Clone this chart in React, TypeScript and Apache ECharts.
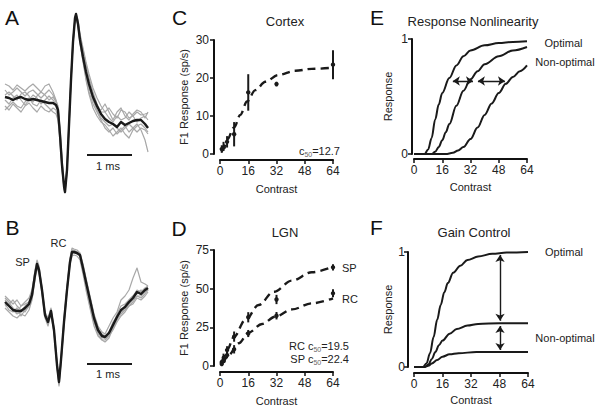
import React, { useEffect, useRef } from 'react';
import * as echarts from 'echarts';

const FONT = '"Liberation Sans", Arial, Helvetica, sans-serif';
const INK = '#1a1a1a';
const GRAY = '#a8a8a8';

// ---------- Panel A: spike waveform (time in samples, 45 samples = 1 ms; amplitude arbitrary units)
const tA = [5, 9, 13, 17, 21, 25, 29, 33, 37, 41, 45, 49, 53, 56, 58, 60, 62, 64, 65, 67, 69, 71, 73, 75, 76, 78, 80, 83, 86, 89, 93, 97, 101, 105, 109, 113, 117, 121, 125, 129, 133, 137, 141, 145, 148];
const meanA = [3, 2, 0, 2, 3, 1, 0, 1, 0, -1, -2, -3, -3, -5, -10, -35, -65, -86, -92, -70, -25, 20, 58, 82, 86, 76, 60, 43, 28, 16, 3, -6, -14, -19, -22, -24, -27, -22, -25, -23, -21, -20, -20, -24, -28];
const traceA1 = [16, 14, 10, 15, 12, 9, 13, 16, 12, 8, 14, 16, 8, 0, -8, -32, -62, -84, -90, -68, -22, 22, 60, 82, 85, 78, 64, 50, 36, 22, 8, -4, -12, -12, -8, -14, -18, -10, -12, -18, -16, -12, -15, -14, -13];
const traceA2 = [-6, -10, -4, -8, -12, -6, -3, -8, -12, -6, -10, -12, -8, -10, -18, -40, -68, -88, -92, -72, -28, 18, 56, 80, 84, 74, 58, 40, 22, 8, -4, -12, -20, -28, -32, -28, -34, -30, -26, -32, -28, -24, -30, -40, -52];
const traceA3 = [5, 8, 4, 0, 6, 8, 4, -2, 4, 8, 5, 0, 3, -2, -12, -38, -66, -87, -91, -70, -26, 20, 57, 81, 85, 75, 56, 38, 20, 6, -8, -16, -22, -25, -30, -36, -32, -28, -34, -38, -30, -26, -24, -28, -32];
const traceA4 = [0, -4, 2, 5, 0, -5, 0, 5, 2, -4, 0, 4, 0, -4, -8, -30, -60, -84, -90, -68, -24, 22, 59, 82, 86, 80, 66, 52, 38, 26, 12, 2, -6, -12, -18, -22, -16, -20, -18, -12, -16, -22, -18, -16, -20];
const traceA5 = [-10, -6, -2, -6, -8, -2, 2, -4, -6, 0, -4, -8, -12, -14, -20, -42, -70, -89, -93, -73, -28, 18, 56, 80, 84, 74, 58, 42, 26, 12, 0, -10, -18, -22, -26, -24, -28, -32, -28, -24, -28, -32, -28, -30, -34];
const traceA6 = [10, 5, 8, 12, 8, 4, 8, 10, 6, 2, 6, 10, 5, -1, -6, -28, -58, -83, -89, -66, -20, 24, 61, 83, 86, 78, 62, 46, 30, 14, 0, -8, -10, -4, -12, -20, -12, -8, -16, -20, -14, -10, -12, -18, -12];

// ---------- Panel B: complex waveform
const tB = [5, 9, 13, 17, 21, 25, 29, 32, 35, 37, 39, 42, 45, 48, 51, 54, 57, 59, 61, 64, 67, 70, 72, 74, 77, 80, 83, 86, 90, 94, 98, 102, 105, 109, 113, 117, 121, 125, 129, 133, 137, 141, 145, 148];
const meanB = [-2, -6, -10, -11, -11, -8, -4, 5, 25, 36, 30, 10, -15, -22, -11, -30, -65, -82, -60, -22, 10, 38, 48, 48, 47, 45, 32, 18, 0, -18, -30, -36, -37, -33, -25, -17, -10, -7, -2, 2, 8, 6, 10, 12];
const traceB1 = [4, 0, -4, 0, -6, -2, 2, 10, 30, 40, 34, 12, -12, -18, -8, -28, -62, -80, -58, -18, 14, 42, 52, 51, 50, 47, 36, 22, 4, -14, -26, -32, -34, -26, -18, -12, 0, 4, 10, 22, 32, 18, 16, 14];
const traceB2 = [-8, -12, -16, -18, -14, -16, -10, 0, 20, 32, 26, 6, -18, -26, -14, -34, -68, -86, -64, -26, 8, 35, 44, 45, 44, 40, 26, 10, -8, -26, -36, -40, -40, -36, -30, -22, -16, -12, -6, -4, 2, 0, 4, 8];
const traceB3 = [0, -4, 0, -6, -10, -12, -6, 4, 24, 34, 28, 8, -16, -20, -10, -30, -64, -81, -60, -22, 12, 40, 50, 50, 48, 44, 30, 14, -6, -22, -34, -40, -42, -38, -28, -18, -12, -6, 0, 4, 6, 10, 8, 10];
const traceB4 = [-4, -10, -12, -8, -16, -10, -6, 2, 22, 35, 30, 10, -14, -24, -12, -32, -66, -84, -62, -24, 10, 37, 46, 47, 46, 44, 34, 20, 2, -16, -28, -34, -36, -32, -22, -16, -12, -10, -4, 0, 4, 2, 6, 10];
const traceB5 = [2, -2, -8, -12, -6, -4, -2, 8, 28, 38, 32, 12, -14, -20, -10, -28, -63, -80, -58, -20, 12, 40, 50, 49, 48, 46, 32, 16, -2, -20, -32, -38, -38, -34, -26, -14, -6, -4, 0, 4, 10, 8, 12, 14];
const traceB6 = [-6, -4, -10, -14, -12, -6, -2, 6, 26, 37, 31, 9, -16, -22, -12, -30, -66, -84, -61, -23, 10, 38, 48, 48, 47, 45, 34, 16, -4, -22, -32, -36, -38, -36, -28, -20, -14, -10, -6, -2, 4, 4, 8, 10];

// scale bars (samples, amplitude level)
const scaleBarSamples = [87, 132];
const scaleBarLevelA = -55;
const scaleBarLevelB = -64;

// ---------- Panel C: cortex contrast response (sp/s)
const contrasts = [1, 2, 4, 8, 16, 32, 64];
const cortexMean = [1.3, 2.0, 3.2, 5.2, 16.2, 18.4, 23.5];
const cortexErr = [1.0, 1.2, 1.5, 3.2, 4.8, 0.6, 3.8];
const cortexFit = [[1, 0.6], [2, 1.5], [4, 3.7], [8, 7.0], [11.5, 10.3], [15.3, 13.8], [20, 16.8], [25.7, 19.0], [33, 20.8], [42.6, 21.9], [52, 22.4], [64, 22.7]];

// ---------- Panel D: LGN contrast response (sp/s)
const spMean = [2.5, 6, 10.3, 19, 31.5, 43, 63.8];
const spErr = [1.5, 2, 2.5, 3.3, 3.3, 3, 2];
const rcMean = [1.3, 3.9, 7, 10.8, 21, 32.5, 47];
const rcErr = [1.2, 1.5, 2, 2.7, 2.3, 2.4, 2.6];
const spFit = [[1, 2.5], [2, 5], [4, 10.3], [8, 19], [14.3, 29.7], [21.9, 39.4], [30.4, 48], [40.8, 55.2], [52, 60.6], [64, 64.2]];
const rcFit = [[1, 1.7], [2, 3.5], [4.9, 7.1], [10.6, 14.7], [16.2, 21.6], [23.8, 27.2], [31.3, 31.9], [40.8, 36.6], [52, 40.5], [64, 43.8]];

// ---------- Panel E: response nonlinearity (normalized)
const nlOptimal = [[0, 0], [6, 0], [8, 0.04], [10, 0.14], [12, 0.3], [14, 0.43], [16, 0.53], [20, 0.66], [24, 0.77], [28, 0.85], [32, 0.9], [40, 0.945], [48, 0.965], [56, 0.975], [64, 0.98]];
const nlMiddle = [[0, 0], [10, 0], [12, 0.02], [14, 0.06], [16, 0.12], [18, 0.19], [20, 0.26], [24, 0.42], [28, 0.55], [32, 0.65], [36, 0.72], [40, 0.78], [48, 0.85], [56, 0.9], [64, 0.93]];
const nlNonOptimal = [[0, 0], [18, 0], [22, 0.01], [25, 0.03], [28, 0.06], [32, 0.13], [36, 0.23], [40, 0.34], [44, 0.44], [48, 0.53], [52, 0.61], [56, 0.67], [60, 0.72], [64, 0.77]];
const arrowsE = [[[22, 0.635], [33.4, 0.635]], [[36.2, 0.635], [51.5, 0.635]]];

// ---------- Panel F: gain control (normalized)
const gcOptimal = [[0, 0], [5, 0], [7, 0.03], [9, 0.12], [11, 0.26], [13, 0.41], [15, 0.54], [17, 0.65], [19, 0.73], [22, 0.82], [26, 0.88], [30, 0.93], [36, 0.96], [44, 0.985], [52, 0.995], [64, 1]];
const gcMiddle = [[0, 0], [6, 0], [8, 0.02], [10, 0.07], [12, 0.13], [14, 0.19], [16, 0.23], [20, 0.29], [24, 0.33], [30, 0.36], [36, 0.375], [48, 0.38], [64, 0.38]];
const gcLow = [[0, 0], [6, 0], [8, 0.01], [10, 0.03], [13, 0.06], [16, 0.09], [20, 0.11], [25, 0.12], [35, 0.13], [64, 0.13]];
const arrowsF = [[[48.3, 0.974], [48.3, 0.403]], [[48.3, 0.357], [48.3, 0.148]]];

const contrastTicks = { min: 0, max: 64, interval: 16 };

function hiddenAxis(gridIndex: number, min: number, max: number) {
  return { type: 'value', gridIndex, min, max, show: false, splitLine: { show: false } };
}

function xContrast(gridIndex: number, offset: number, nameGap: number) {
  return {
    type: 'value', gridIndex, ...contrastTicks, offset,
    name: 'Contrast', nameLocation: 'middle', nameGap,
    nameTextStyle: { fontSize: 11, color: '#222', fontFamily: FONT },
    axisLine: { show: true, onZero: false, lineStyle: { color: '#111', width: 2 } },
    axisTick: { show: true, length: 4, lineStyle: { color: '#111', width: 1.5 } },
    axisLabel: { fontSize: 12, color: '#222', margin: 5, fontFamily: FONT },
    splitLine: { show: false },
  };
}

function yResp(gridIndex: number, max: number, interval: number, offset: number, name: string, nameGap: number, labelMargin: number) {
  return {
    type: 'value', gridIndex, min: 0, max, interval, offset,
    name, nameLocation: 'middle', nameGap,
    nameTextStyle: { fontSize: 11, color: '#222', fontFamily: FONT },
    axisLine: { show: true, onZero: false, lineStyle: { color: '#111', width: 2 } },
    axisTick: { show: true, length: 4, lineStyle: { color: '#111', width: 1.5 } },
    axisLabel: { fontSize: 12, color: '#222', margin: labelMargin, fontFamily: FONT },
    splitLine: { show: false },
  };
}

function wave(axis: number, t: number[], v: number[], color: string, width: number, z: number) {
  return {
    type: 'line', xAxisIndex: axis, yAxisIndex: axis, data: t.map((x, i) => [x, v[i]]),
    symbol: 'none', showSymbol: false, silent: true, z,
    lineStyle: { color, width, join: 'round' },
  };
}

function curve(axis: number, data: number[][], dashed: boolean) {
  return {
    type: 'line', xAxisIndex: axis, yAxisIndex: axis, data, smooth: 0.35, smoothMonotone: 'x',
    symbol: 'none', showSymbol: false, silent: true,
    lineStyle: { color: INK, width: dashed ? 2.4 : 2, type: dashed ? [8, 5] : 'solid' },
  };
}

function errorBars(axis: number, xs: number[], mean: number[], err: number[]) {
  return {
    type: 'custom', xAxisIndex: axis, yAxisIndex: axis, silent: true, z: 5,
    data: xs.map((x, i) => [x, mean[i], err[i]]),
    encode: { x: 0, y: 1 },
    renderItem: (_p: any, api: any) => {
      const x = api.value(0), m = api.value(1), e = api.value(2);
      const top = api.coord([x, m + e]);
      const bot = api.coord([x, m - e]);
      const mid = api.coord([x, m]);
      return {
        type: 'group',
        children: [
          { type: 'line', shape: { x1: top[0], y1: top[1], x2: bot[0], y2: bot[1] }, style: { stroke: INK, lineWidth: 2 } },
          { type: 'circle', shape: { cx: mid[0], cy: mid[1], r: 2.2 }, style: { fill: INK } },
        ],
      };
    },
  };
}

function arrows(axis: number, segs: number[][][]) {
  return {
    type: 'lines', coordinateSystem: 'cartesian2d', xAxisIndex: axis, yAxisIndex: axis, silent: true, z: 6,
    symbol: ['arrow', 'arrow'], symbolSize: 7,
    lineStyle: { color: INK, width: 1.4, opacity: 1, curveness: 0 },
    data: segs.map((c) => ({ coords: c })),
  };
}

function scaleBar(axis: number, level: number) {
  return {
    type: 'line', xAxisIndex: axis, yAxisIndex: axis, silent: true, symbol: 'none', showSymbol: false,
    data: scaleBarSamples.map((s) => [s, level]),
    lineStyle: { color: INK, width: 2 },
  };
}

function txt(text: string, x: number, y: number, size: number, align: string = 'center', extra: any = {}) {
  return {
    type: 'text', x, y, silent: true,
    style: {
      text, fontSize: size, fontFamily: FONT, fill: '#222',
      align, verticalAlign: 'middle', textAlign: align, textVerticalAlign: 'middle', ...extra,
    },
  };
}

const subRich = { s: { fontSize: 7, fill: '#666', fontFamily: FONT, padding: [7, 0, 0, 0] } };

export default function App() {
  const ref = useRef<HTMLDivElement>(null);
  useEffect(() => {
    if (!ref.current) return;
    const chart = echarts.init(ref.current, null, { renderer: 'svg' });
    const option: any = {
      animation: false,
      backgroundColor: '#fff',
      textStyle: { fontFamily: FONT },
      grid: [
        { left: 0, top: 0, width: 150, height: 200 },
        { left: 0, top: 200, width: 150, height: 200 },
        { left: 220, top: 40, width: 113, height: 114 },
        { left: 220, top: 250, width: 113, height: 116 },
        { left: 414, top: 39, width: 113, height: 115 },
        { left: 414, top: 252, width: 114, height: 115 },
      ],
      xAxis: [
        hiddenAxis(0, 0, 150),
        hiddenAxis(1, 0, 150),
        xContrast(2, 6, 23),
        xContrast(3, 6, 23),
        xContrast(4, 5, 22),
        xContrast(5, 6, 21),
      ],
      yAxis: [
        hiddenAxis(0, -100, 100),
        hiddenAxis(1, -100, 100),
        yResp(2, 30, 10, 6, 'F1 Response (sp/s)', 25, 5),
        yResp(3, 75, 25, 6, 'F1 Response (sp/s)', 25, 5),
        yResp(4, 1, 1, 2, 'Response', 19, 4),
        yResp(5, 1, 1, 6, 'Response', 15, 3),
      ],
      series: [
        wave(0, tA, traceA1, GRAY, 1.2, 1),
        wave(0, tA, traceA2, GRAY, 1.2, 1),
        wave(0, tA, traceA3, GRAY, 1.2, 1),
        wave(0, tA, traceA4, GRAY, 1.2, 1),
        wave(0, tA, traceA5, GRAY, 1.2, 1),
        wave(0, tA, traceA6, GRAY, 1.2, 1),
        wave(0, tA, meanA, INK, 2.4, 3),
        scaleBar(0, scaleBarLevelA),
        wave(1, tB, traceB1, GRAY, 1.2, 1),
        wave(1, tB, traceB2, GRAY, 1.2, 1),
        wave(1, tB, traceB3, GRAY, 1.2, 1),
        wave(1, tB, traceB4, GRAY, 1.2, 1),
        wave(1, tB, traceB5, GRAY, 1.2, 1),
        wave(1, tB, traceB6, GRAY, 1.2, 1),
        wave(1, tB, meanB, INK, 2.4, 3),
        scaleBar(1, scaleBarLevelB),
        curve(2, cortexFit, true),
        errorBars(2, contrasts, cortexMean, cortexErr),
        curve(3, spFit, true),
        curve(3, rcFit, true),
        errorBars(3, contrasts, spMean, spErr),
        errorBars(3, contrasts, rcMean, rcErr),
        curve(4, nlOptimal, false),
        curve(4, nlMiddle, false),
        curve(4, nlNonOptimal, false),
        arrows(4, arrowsE),
        curve(5, gcOptimal, false),
        curve(5, gcMiddle, false),
        curve(5, gcLow, false),
        arrows(5, arrowsF),
      ],
      graphic: {
        elements: [
          txt('A', 5, 17, 21, 'left', { fill: '#111' }),
          txt('B', 5.5, 227, 21, 'left', { fill: '#111' }),
          txt('C', 172, 17.5, 21, 'left', { fill: '#111' }),
          txt('D', 171.5, 228, 21, 'left', { fill: '#111' }),
          txt('E', 370, 17.5, 21, 'left', { fill: '#111' }),
          txt('F', 370, 227.5, 21, 'left', { fill: '#111' }),
          txt('1 ms', 108, 166, 11),
          txt('1 ms', 108, 374, 11),
          txt('SP', 22.5, 262, 11),
          txt('RC', 58.5, 243, 11),
          txt('Cortex', 285, 21, 13),
          txt('LGN', 285, 232, 13),
          txt('Response Nonlinearity', 473, 21, 13),
          txt('Gain Control', 474, 232, 13),
          txt('c{s|50}=12.7', 340, 151, 11, 'right', { rich: subRich }),
          txt('RC c{s|50}=19.5', 349, 346, 11, 'right', { rich: subRich }),
          txt('SP c{s|50}=22.4', 349, 359, 11, 'right', { rich: subRich }),
          txt('SP', 342, 268, 11, 'left'),
          txt('RC', 342, 299, 11, 'left'),
          txt('Optimal', 563.5, 43, 11),
          txt('Non-optimal', 565, 62, 11),
          txt('Optimal', 564, 252, 11),
          txt('Non-optimal', 565, 338, 11),
        ],
      },
    };
    chart.setOption(option);
    return () => chart.dispose();
  }, []);
  return <div ref={ref} style={{ position: 'fixed', left: 0, top: 0, width: 600, height: 408, background: '#fff' }} />;
}
